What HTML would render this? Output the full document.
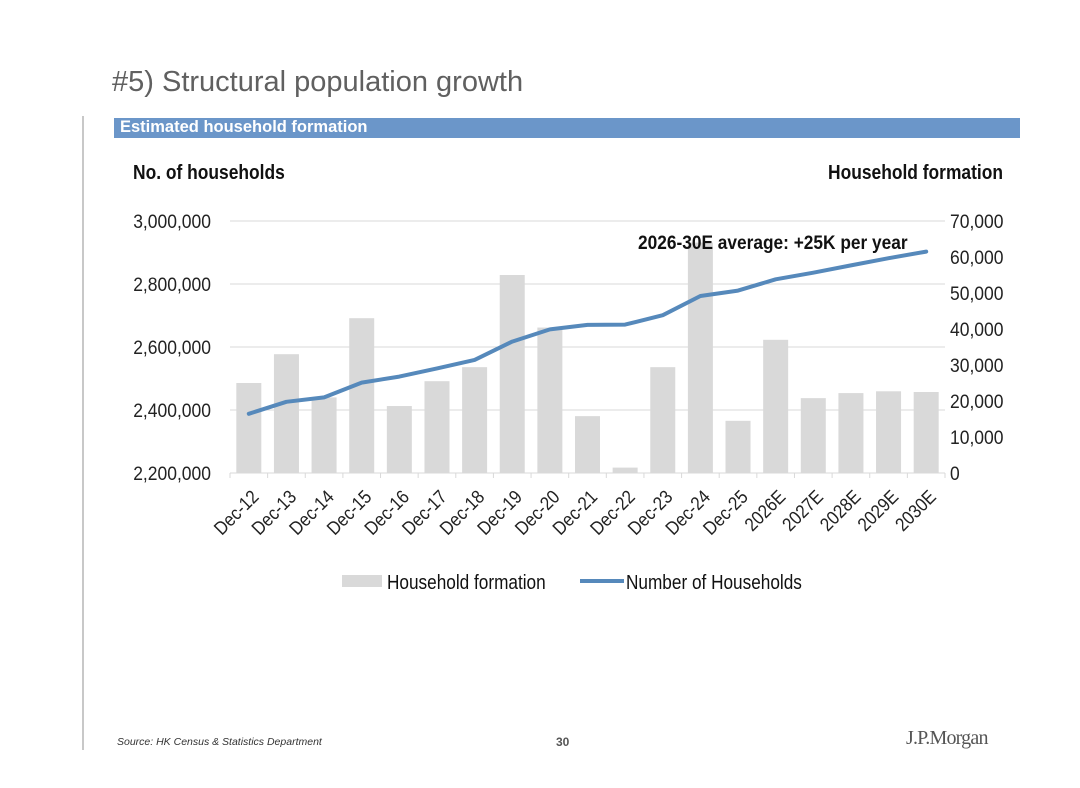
<!DOCTYPE html>
<html><head><meta charset="utf-8">
<style>
body{margin:0;background:#fff;}
#page{position:relative;width:1080px;height:788px;overflow:hidden;background:#fff;font-family:"Liberation Sans",sans-serif;}
.t{position:absolute;white-space:nowrap;}
</style></head>
<body>
<div id="page">
<div class="t" style="left:112px;top:66px;font-size:29px;color:#606060;">#5) Structural population growth</div>
<div style="position:absolute;left:82px;top:116px;width:2px;height:634px;background:#c8c8c8;"></div>
<div style="position:absolute;left:114px;top:118px;width:906px;height:20px;background:#6b96c9;"></div>
<div class="t" style="left:120px;top:118px;font-weight:bold;font-size:16.5px;color:#fff;">Estimated household formation</div>
<svg id="chart" width="1080" height="788" style="position:absolute;left:0;top:0;" xmlns="http://www.w3.org/2000/svg"></svg>
<div class="t" style="left:117px;top:736px;font-style:italic;font-size:10.5px;color:#333;">Source: HK Census &amp; Statistics Department</div>
<div class="t" style="left:556px;top:735px;font-weight:bold;font-size:12px;color:#555;">30</div>
<div class="t" style="left:906px;top:727px;font-family:'Liberation Serif',serif;font-size:20px;color:#555;letter-spacing:-0.8px;">J.P.Morgan</div>
</div>
<script>
const categories=["Dec-12","Dec-13","Dec-14","Dec-15","Dec-16","Dec-17","Dec-18","Dec-19","Dec-20","Dec-21","Dec-22","Dec-23","Dec-24","Dec-25","2026E","2027E","2028E","2029E","2030E"];
const formation=[25000,33000,21000,43000,18600,25500,29400,55000,40400,15800,1500,29400,64000,14500,37000,20800,22200,22700,22500];
const households=[2388000,2426000,2440000,2487000,2506000,2532000,2559000,2617000,2656000,2670000,2671000,2701000,2762000,2779000,2815000,2836000,2859000,2882000,2903000];
const leftTicks=[2200000,2400000,2600000,2800000,3000000];
const rightTicks=[0,10000,20000,30000,40000,50000,60000,70000];

const NS="http://www.w3.org/2000/svg";
const svg=document.getElementById('chart');
const X0=230,X1=945,Y0=473,Y1=221;
const step=(X1-X0)/categories.length;
function xc(i){return X0+step*(i+0.5);}
function yL(v){return Y0-(v-2200000)/(3000000-2200000)*(Y0-Y1);}
function yR(v){return Y0-v/70000*(Y0-Y1);}
function mk(tag,attrs){const e=document.createElementNS(NS,tag);for(const k in attrs)e.setAttribute(k,attrs[k]);svg.appendChild(e);return e;}
const FONT="Liberation Sans, sans-serif";
function squeeze(t,f){const w=t.getComputedTextLength();t.setAttribute('textLength',(w*f).toFixed(1));t.setAttribute('lengthAdjust','spacingAndGlyphs');}

leftTicks.forEach(v=>{
  const g=mk('line',{x1:X0,x2:X1,y1:yL(v),y2:yL(v),stroke:'#d9d9d9','stroke-width':1});
  
  
  const t=mk('text',{x:211,y:yL(v)+7,'text-anchor':'end','font-size':19,fill:'#222','font-family':FONT});
  t.textContent=v.toLocaleString('en-US');
  
  
  squeeze(t,0.92);
});
rightTicks.forEach(v=>{
  const t=mk('text',{x:950,y:yR(v)+7,'text-anchor':'start','font-size':19,fill:'#222','font-family':FONT});
  t.textContent=v.toLocaleString('en-US');
  
  
  squeeze(t,0.92);
});
for(let i=0;i<=categories.length;i++){
  const tk=mk('line',{x1:X0+step*i,x2:X0+step*i,y1:Y0,y2:Y0+5,stroke:'#d9d9d9'});
  
  
}
formation.forEach((v,i)=>{
  const b=mk('rect',{x:xc(i)-12.5,y:yR(v),width:25,height:Y0-yR(v),fill:'#d9d9d9'});
  
  
});
const pts=households.map((v,i)=>xc(i).toFixed(1)+','+yL(v).toFixed(1)).join(' ');
const pl=mk('polyline',{points:pts,fill:'none',stroke:'#5689bb','stroke-width':4,'stroke-linejoin':'round','stroke-linecap':'round'});


categories.forEach((c,i)=>{
  const x=xc(i)+11,y=Y0+25;
  const t=mk('text',{x:x,y:y,'text-anchor':'end','font-size':19,fill:'#222','font-family':FONT,transform:`rotate(-45 ${x} ${y})`});
  t.textContent=c;
  
  
  squeeze(t,0.88);
});
function txt(x,y,s,attrs,name,f){const t=mk('text',Object.assign({x:x,y:y,fill:'#111','font-family':FONT},attrs));t.textContent=s;squeeze(t,f);return t;}
txt(133,179,'No. of households',{'font-size':20,'font-weight':'bold'},'left-axis-title',0.87);
txt(1003,179,'Household formation',{'font-size':20,'font-weight':'bold','text-anchor':'end'},'right-axis-title',0.87);
txt(638,249,'2026-30E average: +25K per year',{'font-size':19,'font-weight':'bold'},'average-annotation',0.91);
const lb=mk('rect',{x:342,y:575,width:40,height:12,fill:'#d9d9d9'});


txt(387,589,'Household formation',{'font-size':20},'legend-formation-label',0.86);
const ll=mk('line',{x1:580,x2:624,y1:581,y2:581,stroke:'#5689bb','stroke-width':4});


txt(626,589,'Number of Households',{'font-size':20},'legend-households-label',0.86);
</script>
</body></html>
